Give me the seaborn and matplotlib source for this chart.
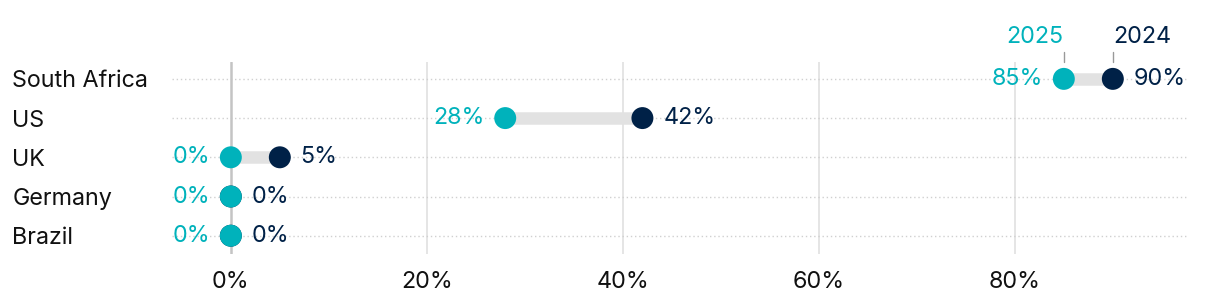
import matplotlib
matplotlib.use("Agg")
import matplotlib.pyplot as plt
import seaborn as sns
import pandas as pd

countries = ["South Africa", "US", "UK", "Germany", "Brazil"]
values_2024 = [90, 42, 5, 0, 0]
values_2025 = [85, 28, 0, 0, 0]
xticks = [0, 20, 40, 60, 80]
xtick_labels = ["0%", "20%", "40%", "60%", "80%"]

TEAL = "#00b2bb"
NAVY = "#002147"

sns.set_theme(style="white")
plt.rcParams['font.family'] = ['Inter', 'DejaVu Sans']

df = pd.DataFrame({"country": countries, "y2024": values_2024, "y2025": values_2025})
df["pos"] = range(len(df))

fig = plt.figure(figsize=(12.2, 3.04), dpi=100)
ax = fig.add_axes([0.141, 0.164, 0.833, 0.632])

ax.set_xlim(-6.0, 97.7)
ax.set_ylim(4.47, -0.43)

# grid
for t in xticks:
    if t == 0:
        ax.axvline(t, color="#c4c4c4", lw=1.8, zorder=1)
    else:
        ax.axvline(t, color="#e3e3e3", lw=1.3, zorder=0)
for p in df["pos"]:
    ax.axhline(p, color="#d0d0d0", lw=1.0, ls=(0, (1, 2)), zorder=0)

# connectors
ax.hlines(df["pos"], df["y2025"], df["y2024"], color="#e2e2e2", lw=9, zorder=2)

sns.scatterplot(data=df, x="y2024", y="pos", color=NAVY, s=250, edgecolor="none", zorder=3, ax=ax)
sns.scatterplot(data=df, x="y2025", y="pos", color=TEAL, s=250, edgecolor="none", zorder=4, ax=ax)

fs = 16.8
for _, r in df.iterrows():
    ax.annotate(f"{r.y2025}%", (r.y2025, r.pos), xytext=(-15, 0), textcoords="offset points",
                ha="right", va="center", color=TEAL, fontsize=fs)
    ax.annotate(f"{r.y2024}%", (r.y2024, r.pos), xytext=(15, 0), textcoords="offset points",
                ha="left", va="center", color=NAVY, fontsize=fs)

# series labels on top row
top = df.iloc[0]
for val, lab, col, ha in [(top.y2025, "2025", TEAL, "right"), (top.y2024, "2024", NAVY, "left")]:
    ax.plot([val, val], [top.pos - 0.42, top.pos - 0.68], color="#999999", lw=1, clip_on=False)
    ax.annotate(lab, (val, top.pos), xytext=(0, 30), textcoords="offset points",
                ha=ha, va="center", color=col, fontsize=fs, annotation_clip=False)

ax.set_yticks(df["pos"])
ax.set_yticklabels(countries, fontsize=fs, color="#111111", ha="left")
ax.tick_params(axis="y", length=0, pad=115)
ax.set_xticks(xticks)
ax.set_xticklabels(xtick_labels, fontsize=fs, color="#111111")
ax.tick_params(axis="x", length=0, pad=12)
ax.set_xlabel("")
ax.set_ylabel("")
for s in ax.spines.values():
    s.set_visible(False)
if ax.get_legend():
    ax.get_legend().remove()

fig.savefig("out.png", dpi=100)
